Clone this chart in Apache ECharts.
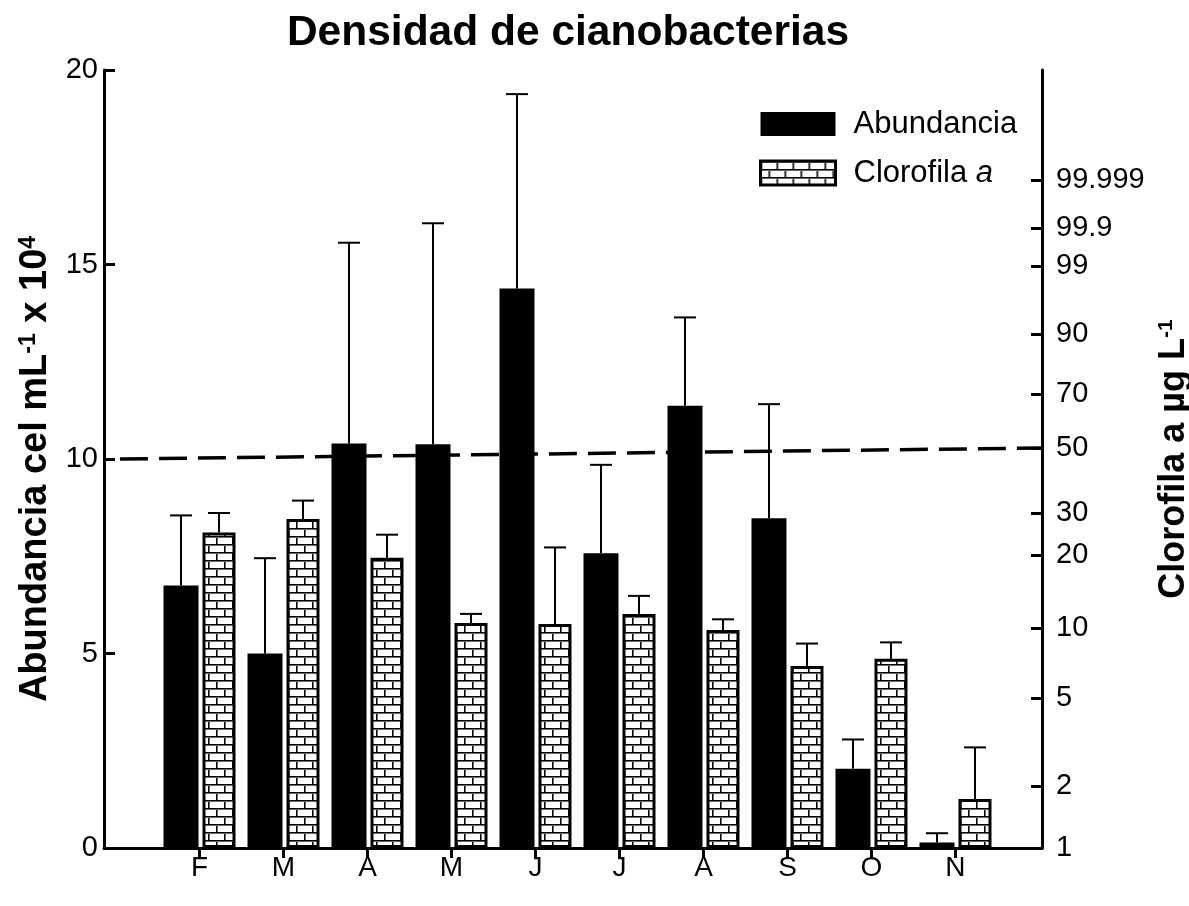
<!DOCTYPE html>
<html>
<head>
<meta charset="utf-8">
<script src="https://cdn.jsdelivr.net/npm/echarts@6/dist/echarts.min.js"></script>
<style>
  html, body { margin: 0; padding: 0; background: #fff; }
  #chart { width: 1189px; height: 906px; }
</style>
</head>
<body>
<div id="chart"></div>
<script>
// Meses de muestreo (febrero a noviembre)
const meses = ['F', 'M', 'A', 'M', 'J', 'J', 'A', 'S', 'O', 'N'];
const mesNumero = [2, 3, 4, 5, 6, 7, 8, 9, 10, 11];

// Abundancia de cianobacterias (cel mL-1 x 10^4): media y desviación estándar
const abundancia   = [6.75, 5.0, 10.4, 10.38, 14.38, 7.58, 11.37, 8.48, 2.04, 0.14];
const abundanciaDE = [1.8, 2.45, 5.16, 5.68, 5.0, 2.27, 2.27, 2.93, 0.75, 0.24];

// Clorofila a (µg L-1): media y desviación estándar
const clorofila   = [25, 28.4, 19.5, 10.5, 10.4, 11.5, 9.8, 6.9, 7.4, 1.73];
const clorofilaDE = [5, 5.1, 5, 1, 11.2, 2.2, 1.1, 1.7, 1.3, 1.27];

// Marcas del eje derecho (escala de probabilidad)
const clorofilaMarcas    = [1, 2, 5, 10, 20, 30, 50, 70, 90, 99, 99.9, 99.999];
const clorofilaEtiquetas = ['1', '2', '5', '10', '20', '30', '50', '70', '90', '99', '99.9', '99.999'];

// Línea de referencia: une 10 (abundancia) con 50 (clorofila)
const umbralAbundancia = 10;
const umbralClorofila = 50;

// ---- Escala del eje derecho, expresada en el marco común 0–20 del eje izquierdo ----
const escalaClorofila = [0, 1.594, 3.856, 5.656, 7.532, 8.612, 10.283, 11.671, 13.213, 14.961, 15.938, 17.172];
const logit = v => { const p = v / 100; return Math.log(p / (1 - p)); };
function posClorofila(v) {
  const m = clorofilaMarcas, s = escalaClorofila;
  let i = 0;
  while (i < m.length - 2 && v > m[i + 1]) i++;
  const f = (logit(v) - logit(m[i])) / (logit(m[i + 1]) - logit(m[i]));
  return s[i] + f * (s[i + 1] - s[i]);
}

// ---- Estilo ----
const FUENTE = '"Liberation Sans", Arial, Helvetica, sans-serif';
const NEGRO = '#000';
const ANCHO_NEGRA = 35;   // barra de abundancia
const ANCHO_TRAMA = 33;   // barra de clorofila (más el borde)
const SEPARACION = 4;
const BORDE_TRAMA = 3;
const X_MIN = 0.863, X_MAX = 12.03;

// Trama de ladrillos para las barras de clorofila
function tramaLadrillo() {
  const c = document.createElement('canvas');
  c.width = 16; c.height = 16;
  const g = c.getContext('2d');
  g.fillStyle = '#fff'; g.fillRect(0, 0, 16, 16);
  g.fillStyle = '#000';
  g.fillRect(0, 0, 16, 1); g.fillRect(0, 8, 16, 1);
  g.fillRect(0, 1, 1, 7); g.fillRect(8, 9, 1, 7);
  g.fillStyle = '#666';
  g.fillRect(0, 1, 16, 1); g.fillRect(0, 9, 16, 1);
  g.fillRect(1, 2, 1, 6); g.fillRect(9, 10, 1, 6);
  return c;
}
const relleno = { image: tramaLadrillo(), repeat: 'repeat' };

// Desplazamiento horizontal del centro de cada barra respecto del centro del grupo
const anchoGrupo = ANCHO_NEGRA + SEPARACION + ANCHO_TRAMA;
const desplNegra = -anchoGrupo / 2 + ANCHO_NEGRA / 2;
const desplTrama = -anchoGrupo / 2 + ANCHO_NEGRA + SEPARACION + ANCHO_TRAMA / 2;
const barGap = (SEPARACION / ANCHO_NEGRA * 100) + '%';

// Barras de error (sólo hacia arriba, con remate horizontal)
function barrasError(despl) {
  return function (params, api) {
    const x = api.value(0);
    const p0 = api.coord([x, api.value(1)]);
    const p1 = api.coord([x, api.value(2)]);
    const cx = p0[0] + despl;
    const estilo = { stroke: NEGRO, lineWidth: 2 };
    return {
      type: 'group',
      children: [
        { type: 'line', shape: { x1: cx, y1: p0[1], x2: cx, y2: p1[1] }, style: estilo },
        { type: 'line', shape: { x1: cx - 11, y1: p1[1], x2: cx + 11, y2: p1[1] }, style: estilo }
      ]
    };
  };
}

const datosAbundancia = mesNumero.map((m, i) => [m, abundancia[i]]);
const datosClorofila  = mesNumero.map((m, i) => [m, posClorofila(clorofila[i])]);
const errAbundancia   = mesNumero.map((m, i) => [m, abundancia[i], abundancia[i] + abundanciaDE[i]]);
const errClorofila    = mesNumero.map((m, i) => [m, posClorofila(clorofila[i]), posClorofila(clorofila[i] + clorofilaDE[i])]);

const chart = echarts.init(document.getElementById('chart'), null, { renderer: 'canvas' });

const textoEje = { color: NEGRO, fontFamily: FUENTE, fontSize: 29 };

chart.setOption({
  animation: false,
  backgroundColor: '#fff',
  title: {
    text: 'Densidad de cianobacterias',
    left: 563, top: 7, textAlign: 'center',
    textStyle: { fontFamily: FUENTE, fontSize: 42.5, fontWeight: 'bold', color: NEGRO }
  },
  legend: {
    orient: 'vertical',
    left: 759, top: 107, padding: 0,
    itemWidth: 75, itemHeight: 24, itemGap: 15,
    icon: 'rect',
    data: [
      { name: 'Abundancia', itemStyle: { color: NEGRO, borderWidth: 0 } },
      { name: 'Clorofila a', itemStyle: { color: relleno, borderColor: NEGRO, borderWidth: BORDE_TRAMA } }
    ],
    formatter: n => n === 'Clorofila a' ? '{g|}{t|Clorofila }{i|a}' : '{g|}{t|' + n + '}',
    textStyle: {
      color: NEGRO, fontFamily: FUENTE, fontSize: 31, lineHeight: 34,
      rich: {
        g: { width: 13 },
        t: { fontFamily: FUENTE, fontSize: 31, color: NEGRO },
        i: { fontFamily: FUENTE, fontSize: 31, color: NEGRO, fontStyle: 'italic' }
      }
    }
  },
  grid: { left: 104, right: 147, top: 70, bottom: 58, containLabel: false, outerBoundsMode: 'none' },
  xAxis: {
    type: 'value', min: X_MIN, max: X_MAX,
    splitLine: { show: false },
    axisLine: { show: true, lineStyle: { color: NEGRO, width: 3 } },
    axisTick: { show: true, customValues: mesNumero, length: 10, inside: false, lineStyle: { color: NEGRO, width: 3 } },
    axisLabel: {
      customValues: mesNumero, margin: 6, ...textoEje, fontSize: 28,
      formatter: v => meses[mesNumero.indexOf(Math.round(v))]
    }
  },
  yAxis: [
    {
      type: 'value', min: 0, max: 20, interval: 5, position: 'left',
      splitLine: { show: false },
      axisLine: { show: true, lineStyle: { color: NEGRO, width: 3 } },
      axisTick: { show: true, inside: true, length: 11, lineStyle: { color: NEGRO, width: 3 } },
      axisLabel: { margin: 6, ...textoEje },
      name: '{t|Abundancia cel mL}{s|-1}{t| x 10}{s|4}',
      nameLocation: 'middle', nameRotate: 90, nameGap: 39,
      nameTextStyle: {
        padding: [0, 20, 0, 0],
        rich: {
          t: { fontFamily: FUENTE, fontSize: 38, fontWeight: 'bold', color: NEGRO },
          s: { fontFamily: FUENTE, fontSize: 23, fontWeight: 'bold', color: NEGRO, verticalAlign: 'top' }
        }
      }
    },
    {
      type: 'value', min: 0, max: 20, position: 'right',
      splitLine: { show: false },
      axisLine: { show: true, lineStyle: { color: NEGRO, width: 3 } },
      axisTick: { show: true, inside: true, length: 11, customValues: clorofilaMarcas.map(posClorofila), lineStyle: { color: NEGRO, width: 3 } },
      axisLabel: {
        margin: 14, ...textoEje,
        customValues: clorofilaMarcas.map(posClorofila),
        formatter: v => {
          let k = 0, d = Infinity;
          clorofilaMarcas.forEach((m, i) => { const e = Math.abs(posClorofila(m) - v); if (e < d) { d = e; k = i; } });
          return clorofilaEtiquetas[k];
        }
      },
      name: '{t|Clorofila a µg L}{s|-1}',
      nameLocation: 'middle', nameRotate: 90, nameGap: 102,
      nameTextStyle: {
        rich: {
          t: { fontFamily: FUENTE, fontSize: 36, fontWeight: 'bold', color: NEGRO },
          s: { fontFamily: FUENTE, fontSize: 21, fontWeight: 'bold', color: NEGRO, verticalAlign: 'top' }
        }
      }
    }
  ],
  series: [
    {
      name: 'Umbral', type: 'line', xAxisIndex: 0, yAxisIndex: 0,
      data: [[X_MIN + 0.19, umbralAbundancia], [X_MAX, posClorofila(umbralClorofila)]],
      symbol: 'none', silent: true, z: 1,
      lineStyle: { color: NEGRO, width: 3.5, type: [28, 11] }
    },
    {
      name: 'Abundancia', type: 'bar', xAxisIndex: 0, yAxisIndex: 0,
      data: datosAbundancia, barWidth: ANCHO_NEGRA, barGap: barGap, z: 3,
      itemStyle: { color: NEGRO }
    },
    {
      name: 'Clorofila a', type: 'bar', xAxisIndex: 0, yAxisIndex: 1,
      data: datosClorofila, barWidth: ANCHO_TRAMA, barGap: barGap, z: 3,
      itemStyle: { color: relleno, borderColor: NEGRO, borderWidth: BORDE_TRAMA }
    },
    {
      name: 'Error abundancia', type: 'custom', xAxisIndex: 0, yAxisIndex: 0,
      data: errAbundancia, renderItem: barrasError(desplNegra), z: 2, silent: true
    },
    {
      name: 'Error clorofila', type: 'custom', xAxisIndex: 0, yAxisIndex: 1,
      data: errClorofila, renderItem: barrasError(desplTrama), z: 2, silent: true
    }
  ]
});
</script>
</body>
</html>
